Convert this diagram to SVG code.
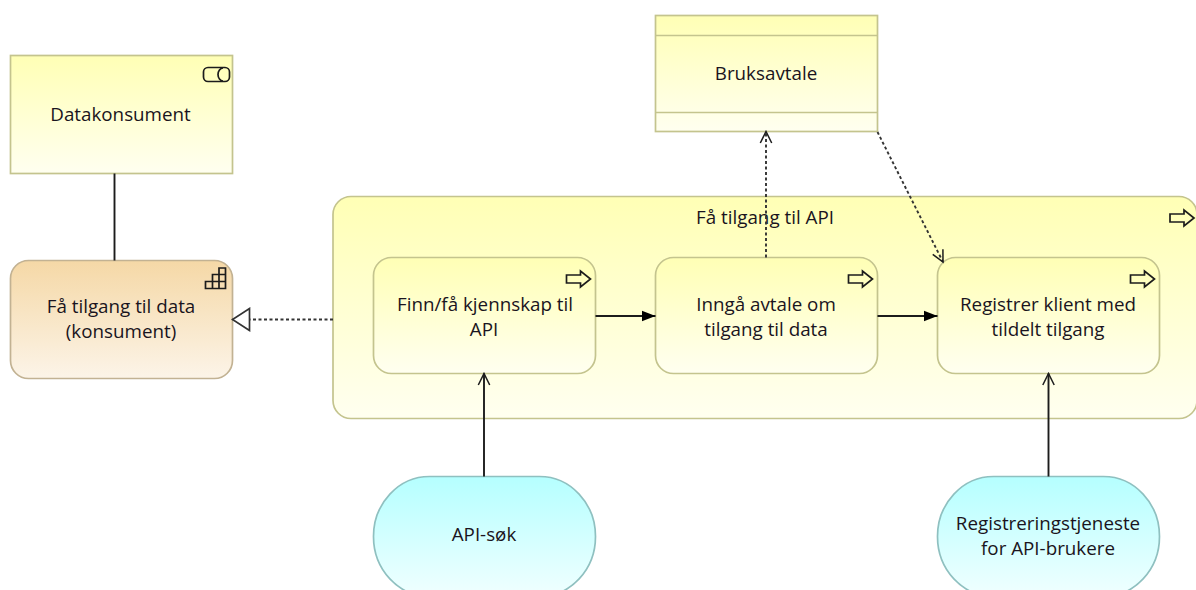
<svg xmlns="http://www.w3.org/2000/svg" width="1196" height="590" viewBox="0 0 1196 590">
<style>
text{font-family:"Open Sans","Noto Sans","Liberation Sans",sans-serif;font-size:18.8px;fill:#1a1420;text-anchor:middle}
.y{fill:url(#gy);stroke:#c4c48e;stroke-width:1.7}
.o{fill:url(#go);stroke:#c2b293;stroke-width:1.7}
.c{fill:url(#gc);stroke:#8fc0c0;stroke-width:1.7}
.i{fill:none;stroke:#1c1c1c;stroke-width:1.7}
.s{fill:none;stroke:#1c1c1c;stroke-width:1.9}
.d{stroke:#333;stroke-dasharray:3 2.5}
</style>
<defs>
<linearGradient id="gy" x1="0" y1="0" x2="0" y2="1"><stop offset="0" stop-color="#ffffb5"/><stop offset="1" stop-color="#fffff0"/></linearGradient>
<linearGradient id="go" x1="0" y1="0" x2="0" y2="1"><stop offset="0" stop-color="#f5d8a6"/><stop offset="1" stop-color="#fcf4e8"/></linearGradient>
<linearGradient id="gc" x1="0" y1="0" x2="0" y2="1"><stop offset="0" stop-color="#b5ffff"/><stop offset="1" stop-color="#f0ffff"/></linearGradient>
<marker id="open" markerUnits="userSpaceOnUse" markerWidth="14" markerHeight="14" refX="12" refY="6.500" orient="auto" viewBox="0 0 14 13"><path d="M0.500 0.800L12 6.500L0.500 12.200" fill="none" stroke="#1c1c1c" stroke-width="1.500"/></marker>
<marker id="solid" markerUnits="userSpaceOnUse" markerWidth="15" markerHeight="13" refX="14" refY="6.500" orient="auto" viewBox="0 0 15 13"><path d="M0 1L14 6.500L0 12Z" fill="#000"/></marker>
<marker id="tri" markerUnits="userSpaceOnUse" markerWidth="20" markerHeight="26" refX="18" refY="13" orient="auto" viewBox="0 0 20 26"><path d="M1 2L18 13L1 24Z" fill="#fff" stroke="#333" stroke-width="1.700"/></marker>
<path id="arr" d="M0 4H14V0L24 8L14 16V12H0Z" fill="none" stroke="#1c1c1c" stroke-width="1.700"/>
</defs>

<g id="node-datakonsument">
<rect class="y" x="10.500" y="55.500" width="222" height="118"/>
<rect class="i" x="203.500" y="67.500" width="26" height="14" rx="4.500"/>
<path class="i" d="M223 68A5 6.500 0 0 0 223 81"/>
<text x="120.500" y="121">Datakonsument</text>
</g>
<g id="node-fa-tilgang-data">
<rect class="o" x="10.500" y="260.500" width="222" height="118" rx="18"/>
<path class="i" d="M205.500 288.500V281.500H212.500V274.500H219V268H225.500V288.500ZM212.500 281.500V288.500M219 274.500V288.500M205.500 281.500H225.500M212.500 274.500H225.500"/>
<text x="121" y="313">Få tilgang til data</text>
<text x="121" y="338">(konsument)</text>
</g>
<g id="node-bruksavtale">
<rect class="y" x="655.500" y="15.500" width="222" height="116"/>
<path d="M655.500 35.500H877.500M655.500 112.500H877.500" fill="none" stroke="#c4c48e" stroke-width="1.700"/>
<text x="766" y="80">Bruksavtale</text>
</g>
<g id="node-fa-tilgang-api">
<rect class="y" x="333" y="196.500" width="864" height="222" rx="18"/>
<use href="#arr" x="1170" y="210"/>
<text x="765" y="224">Få tilgang til API</text>
</g>
<g id="node-finn">
<rect class="y" x="373.500" y="257.500" width="222" height="116" rx="18"/>
<use href="#arr" x="566.500" y="271"/>
<text x="485" y="311">Finn/få kjennskap til</text>
<text x="484" y="336">API</text>
</g>
<g id="node-inngaa">
<rect class="y" x="655.500" y="257.500" width="222" height="116" rx="18"/>
<use href="#arr" x="848.500" y="271"/>
<text x="766" y="311">Inngå avtale om</text>
<text x="766" y="336">tilgang til data</text>
</g>
<g id="node-registrer">
<rect class="y" x="937.500" y="257.500" width="222" height="116" rx="18"/>
<use href="#arr" x="1130.500" y="271"/>
<text x="1048" y="311">Registrer klient med</text>
<text x="1048" y="336">tildelt tilgang</text>
</g>
<g id="node-api-sok">
<rect class="c" x="373.500" y="476.500" width="222" height="120" rx="56" ry="60"/>
<text x="484" y="541">API-søk</text>
</g>
<g id="node-registreringstjeneste">
<rect class="c" x="937.500" y="476.500" width="222" height="120" rx="56" ry="60"/>
<text x="1048" y="530">Registreringstjeneste</text>
<text x="1048" y="555">for API-brukere</text>
</g>

<g id="connectors">
<path class="s" d="M114.500 173.500V260.500"/>
<path class="s d" d="M333 319.500H232.500" marker-end="url(#tri)"/>
<path class="s d" d="M766 257.500V131.500" marker-end="url(#open)"/>
<path class="s d" d="M877.500 132L943 262" marker-end="url(#open)"/>
<path class="s" d="M595.500 316H655.500" marker-end="url(#solid)"/>
<path class="s" d="M877.500 316H937.500" marker-end="url(#solid)"/>
<path class="s" d="M484 476.500V373.500" marker-end="url(#open)"/>
<path class="s" d="M1048.500 476.500V373.500" marker-end="url(#open)"/>
</g>
</svg>
